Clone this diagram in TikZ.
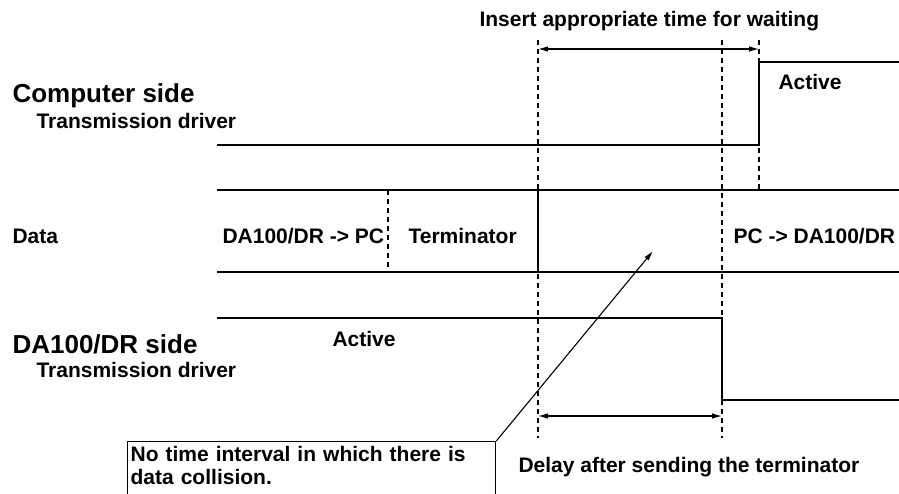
\documentclass[tikz,border=0pt]{standalone}
\usepackage{fontspec}
\setmainfont{Liberation Sans}
\usepackage{tikz}
\usetikzlibrary{calc}
\usetikzlibrary{arrows,arrows.meta,positioning}

\tikzset{
	lbl/.style={font=\fontsize{21}{23}\selectfont\bfseries,inner sep=0pt,anchor=base west},
	side/.style={font=\fontsize{26}{28}\selectfont\bfseries,inner sep=0pt,anchor=base west},
	guide/.style={dash pattern=on 5pt off 4pt,line width=1.1pt},
	wave/.style={line width=1.3pt},
	tip/.style={-{Latex[length=10pt,width=5.5pt]},line width=1.1pt},
	tips/.style={{Latex[length=10pt,width=5.5pt]}-{Latex[length=10pt,width=5.5pt]},line width=1.1pt}
}

\begin{document}
\begin{tikzpicture}[x=1pt,y=-1pt,line width=1.1pt]
		\useasboundingbox (0,0) rectangle (899,493);
		\clip (0,0) rectangle (899,493);
		% guides
		\draw [guide] (538,40) coordinate(gc top) -- (538,438) coordinate(gc bot);
		\draw [guide] (722,40) coordinate(gd top) -- (722,438) coordinate(gd bot);
		\draw [guide] (759,40) coordinate(ge top) -- (759,190) coordinate(ge bot);
		\draw [guide] (388,190) coordinate(gb top) -- (388,272) coordinate(gb bot);
		% computer side driver
		\draw [wave] (217,145) coordinate(cs start) -- (759,145) coordinate(cs rise) -- (759,62) -- (899,62) coordinate(cs end);
		% data lines
		\draw [wave] (217,190) coordinate(data top) -- (899,190);
		\draw [wave] (217,272) coordinate(data bot) -- (899,272);
		\draw [wave] (538,190) coordinate(term top) -- (538,272) coordinate(term bot);
		% DA100/DR side driver
		\draw [wave] (217,318) coordinate(da start) -- (722,318) coordinate(da fall) -- (722,400) -- (899,400) coordinate(da end);
		% time arrows
		\coordinate (wait a) at (538,49);
		\coordinate (wait b) at (759,49);
		\draw [tips] (wait a) -- (wait b);
		\coordinate (delay a) at (538,416);
		\coordinate (delay b) at (722,416);
		\draw [tips] (delay a) -- (delay b);
		% labels
		\node [lbl] (wait) at (479,26) {Insert appropriate time for waiting};
		\node [side] (pc side) at (12,102) {Computer side};
		\node [lbl] (pc drv) at (36,128) {Transmission driver};
		\node [lbl] (pc act) at (778,89) {Active};
		\node [lbl] (data) at (12,243) {Data};
		\node [lbl] (up) at (222,243) {DA100/DR -> PC};
		\node [lbl] (term) at (408,243) {Terminator};
		\node [lbl] (down) at (733,243) {PC -> DA100/DR};
		\node [side] (da side) at (12,353) {DA100/DR side};
		\node [lbl] (da drv) at (36,377) {Transmission driver};
		\node [lbl] (da act) at (332,346) {Active};
		\node [lbl] (delay) at (518,472) {Delay after sending the terminator};
		% note box
		\node [draw,line width=1.3pt,anchor=north west,minimum width=368pt,minimum height=70pt,
			inner sep=0pt,text width=364pt,align=left,font=\fontsize{21}{23}\selectfont\bfseries,
			text depth=50pt] (note) at (127,441)
			{\hspace*{1pt}\rule{0pt}{19pt}No time interval in which there is\\\hspace*{1pt}data collision.};
		\coordinate (coll) at (653,251);
		\draw [tip] (note.north east) -- (coll);
	\end{tikzpicture}
\end{document}
